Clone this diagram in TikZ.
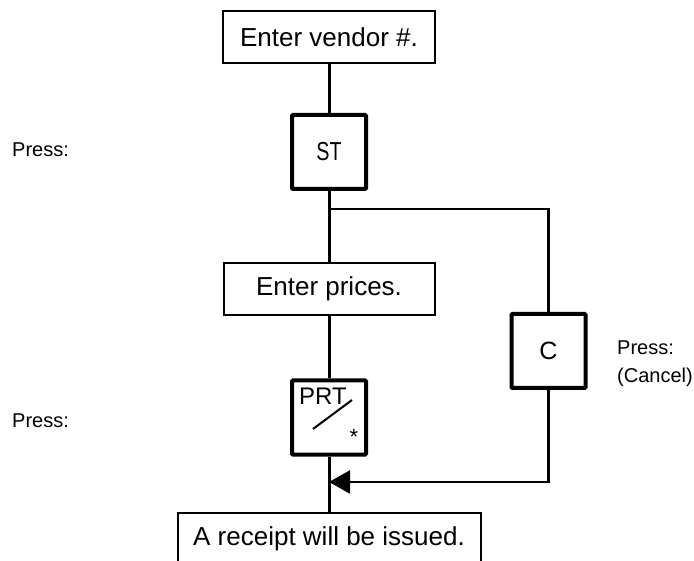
\documentclass[tikz,border=0pt]{standalone}
\usepackage{fontspec}
\setmainfont{Liberation Sans}
\newfontfamily\narrowfont[FakeStretch=0.76]{Liberation Sans}
\usetikzlibrary{arrows.meta,calc,positioning}
\tikzset{entry/.style={draw, line width=2pt, minimum width=212pt, minimum height=52pt, inner sep=0pt, font=\fontsize{26}{30}\selectfont}, key/.style={draw, line width=4pt, rounded corners=1pt, minimum size=74pt, inner sep=0pt, font=\fontsize{25}{30}\selectfont}, flow/.style={line width=3pt}, branch/.style={line width=2.6pt}, note/.style={anchor=base west, inner sep=0pt, font=\fontsize{20}{24}\selectfont}}

\begin{document}
\begin{tikzpicture}[x=1pt,y=-1pt]
\clip (0,0) rectangle (694,561);
\node[entry] (vendor) at (329,37.5) {Enter vendor \#.};
\node[key] (st) at (329,152) {\narrowfont\fontsize{26}{30}\selectfont ST};
\node[entry, minimum width=211pt] (prices) at (329,289) {Enter prices.};
\node[key] (prt) at (329,417.5) {};
\node[key] (c) at (548.5,351) {C};
\node[entry, minimum width=303pt] (receipt) at (329,539) {A receipt will be issued.};
% key face of PRT
\node[anchor=base, inner sep=0pt, font=\fontsize{24}{28}\selectfont] (prtlabel) at ($(prt)+(-6,-12.5)$) {PRT};
\draw[line width=2pt] ($(prt)+(-16,11.5)$) -- ($(prt)+(23,-17.5)$);
\node[anchor=base, inner sep=0pt, font=\fontsize{22}{24}\selectfont] (star) at ($(prt)+(25,27)$) {*};
% side notes
\node[note] (pressst) at (12,157) {Press:};
\node[note] (pressprt) at (12,428) {Press:};
\node[note] (pressc) at (617,355) {Press:};
\node[note] (cancel) at (617,383) {(Cancel)};
% flow lines
\coordinate (split) at (329,209); \coordinate (merge) at (329,482);
\draw[flow] (vendor) -- (st); \draw[flow] (st) -- (prices);
\draw[flow] (prices) -- (prt); \draw[flow] (prt) -- (receipt);
\draw[branch] (split) -| (c);
\draw[branch, -{Triangle[length=21pt, width=23pt]}] (c) |- (merge);
\end{tikzpicture}
\end{document}
